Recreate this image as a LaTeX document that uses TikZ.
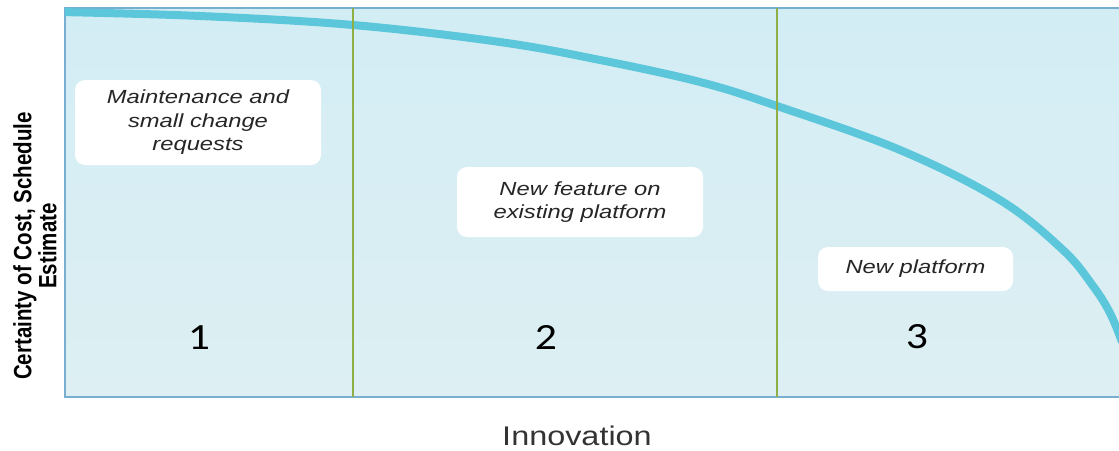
\documentclass[tikz,border=0pt]{standalone}
\usepackage{fontspec}
\setmainfont{Liberation Sans}
\newfontfamily\notefont{Liberation Sans}[FakeStretch=1.25]
\newfontfamily\axisfont{Liberation Sans}[FakeStretch=1.2]
\newfontfamily\ylabelfont{Liberation Sans}[FakeStretch=0.82]
\newfontfamily\numfont{Carlito}[FakeStretch=1.18]
\usepackage{tikz}

\definecolor{framefill}{HTML}{D3EDF4}
\definecolor{framebottom}{HTML}{DDEFF3}
\definecolor{frameline}{HTML}{78AED0}
\definecolor{curveblue}{HTML}{5CC6DA}
\definecolor{divgreen}{HTML}{8DAF45}

\begin{document}
\begin{tikzpicture}[
  x=1pt,y=-1pt,
  note/.style={fill=white,rounded corners=10pt,align=center,inner sep=0pt,
    font=\notefont\itshape\fontsize{19}{23.5}\selectfont,text=black!85},
  phase/.style={font=\numfont\fontsize{37}{40}\selectfont},
  divider/.style={draw=divgreen,line width=1.6pt},
  axislabel/.style={align=center,inner sep=0pt,text=black!80}
]
\useasboundingbox (0,0) rectangle (1119,450);
\fill[top color=framefill,bottom color=framebottom] (65,8) rectangle (1125,397);
\draw[frameline,line width=2pt] (1125,8) -- (65,8) -- (65,397) -- (1125,397);

\begin{scope}
\clip (65,8) rectangle (1119,397);
\draw[curveblue,line width=8pt] plot[smooth,tension=0.6] coordinates {
  (60,12) (200,16) (353,25) (500,42) (600,60) (700,82) (777,106)
  (900,150) (1000,200) (1063,250) (1093,286) (1110,313) (1122,342)};
\end{scope}

\draw[divider] (353,8) -- (353,397);
\draw[divider] (777,8) -- (777,397);

\node[note,minimum width=246pt,minimum height=85pt] (maint) at (198,122.5)
  {Maintenance and\\small change\\requests};
\node[note,minimum width=246pt,minimum height=70pt] (feature) at (580,202)
  {New feature on\\existing platform};
\node[note,minimum width=195pt,minimum height=44pt] (platform) at (915.5,269)
  {New platform};

\node[phase] (p1) at (199,338) {1};
\node[phase] (p2) at (546,337) {2};
\node[phase] (p3) at (917,337) {3};

\node[axislabel,rotate=90,text=black,
  font=\ylabelfont\bfseries\fontsize{25}{25}\selectfont] (certainty) at (35,246)
  {Certainty of Cost, Schedule\\Estimate};
\node[axislabel,font=\axisfont\fontsize{27}{30}\selectfont] (innovation) at (577,436)
  {Innovation};
\end{tikzpicture}
\end{document}
